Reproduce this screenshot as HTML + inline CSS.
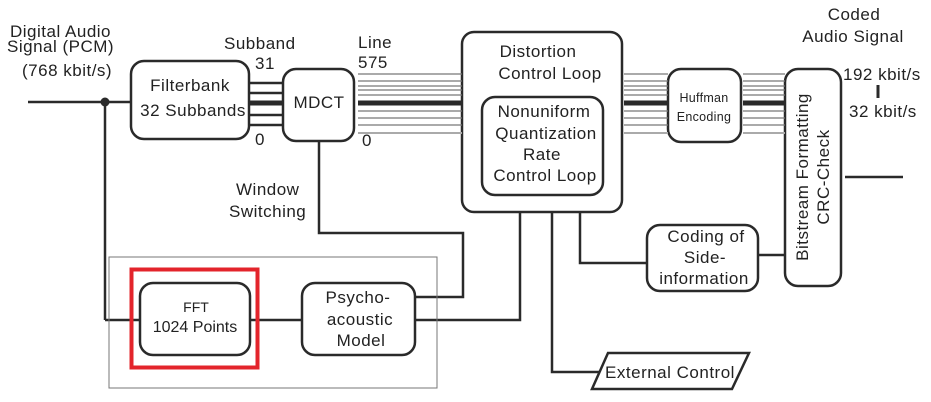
<!DOCTYPE html>
<html><head><meta charset="utf-8"><style>
html,body{margin:0;padding:0;background:#fff;}
svg{display:block;}
text{font-family:"Liberation Sans",sans-serif;fill:#222;}
</style></head><body>
<svg width="931" height="402" viewBox="0 0 931 402" xmlns="http://www.w3.org/2000/svg">
<g fill="none" stroke="#2a2a2a" stroke-width="2.5">
<line x1="28" y1="102" x2="130" y2="102"/>
<line x1="105" y1="102" x2="105" y2="320"/>
<line x1="105" y1="320" x2="140" y2="320"/>
<line x1="250" y1="83" x2="283" y2="83"/>
<line x1="250" y1="93" x2="283" y2="93"/>
<line x1="250" y1="103" x2="283" y2="103" stroke-width="5"/>
<line x1="250" y1="115" x2="283" y2="115"/>
<line x1="250" y1="125" x2="283" y2="125"/>
<rect x="131" y="61" width="118" height="78" rx="13"/>
<rect x="283" y="69" width="71" height="72" rx="13"/>
<rect x="462" y="32" width="160" height="180" rx="12"/>
<rect x="482" y="97" width="121" height="98" rx="13"/>
<rect x="668" y="69" width="73" height="73" rx="13"/>
<rect x="785" y="69" width="56" height="217" rx="13"/>
<rect x="647" y="225" width="111" height="66" rx="13"/>
<rect x="140" y="283" width="110" height="72" rx="13"/>
<rect x="302" y="283" width="113" height="72" rx="13"/>
<polygon points="608,353 749,353 732,389 592,389"/>
<polyline points="319,141 319,233 463,233 463,297 416,297"/>
<line x1="250" y1="320" x2="302" y2="320"/>
<polyline points="416,320 520,320 520,212"/>
<polyline points="552,212 552,372 600,372"/>
<polyline points="580,212 580,263 647,263"/>
<line x1="758" y1="255" x2="785" y2="255"/>
<line x1="845" y1="177" x2="903" y2="177"/>
<line x1="878" y1="85" x2="878" y2="98" stroke-width="3"/>
<line x1="358" y1="103" x2="462" y2="103" stroke-width="5"/>
<line x1="624" y1="103" x2="668" y2="103" stroke-width="5"/>
<line x1="743" y1="103" x2="785" y2="103" stroke-width="5"/>
</g>
<g stroke="#777" stroke-width="1.3">
<line x1="358" y1="74" x2="462" y2="74"/><line x1="358" y1="81" x2="462" y2="81"/><line x1="358" y1="86" x2="462" y2="86"/><line x1="358" y1="90" x2="462" y2="90"/><line x1="358" y1="95" x2="462" y2="95"/>
<line x1="358" y1="111" x2="462" y2="111"/><line x1="358" y1="118" x2="462" y2="118"/><line x1="358" y1="125" x2="462" y2="125"/><line x1="358" y1="133" x2="462" y2="133" stroke="#aaa" stroke-width="2"/>
<line x1="624" y1="74" x2="668" y2="74"/><line x1="624" y1="81" x2="668" y2="81"/><line x1="624" y1="86" x2="668" y2="86"/><line x1="624" y1="90" x2="668" y2="90"/><line x1="624" y1="95" x2="668" y2="95"/>
<line x1="624" y1="111" x2="668" y2="111"/><line x1="624" y1="118" x2="668" y2="118"/><line x1="624" y1="125" x2="668" y2="125"/><line x1="624" y1="133" x2="668" y2="133" stroke="#aaa" stroke-width="2"/>
<line x1="743" y1="74" x2="785" y2="74"/><line x1="743" y1="81" x2="785" y2="81"/><line x1="743" y1="86" x2="785" y2="86"/><line x1="743" y1="90" x2="785" y2="90"/><line x1="743" y1="95" x2="785" y2="95"/>
<line x1="743" y1="111" x2="785" y2="111"/><line x1="743" y1="118" x2="785" y2="118"/><line x1="743" y1="125" x2="785" y2="125"/><line x1="743" y1="133" x2="785" y2="133" stroke="#aaa" stroke-width="2"/>
</g>
<circle cx="105" cy="102" r="4.5" fill="#2a2a2a"/>
<rect x="109" y="257" width="328" height="131" fill="none" stroke="#777" stroke-width="1"/>
<rect x="131.5" y="269.5" width="126" height="98" fill="none" stroke="#e3242b" stroke-width="4"/>
<g font-size="17" letter-spacing="0.5">
<text x="10" y="37">Digital Audio</text>
<text x="7" y="52">Signal (PCM)</text>
<text x="22" y="76">(768 kbit/s)</text>
<text x="224" y="49">Subband</text>
<text x="255" y="69">31</text>
<text x="255" y="145">0</text>
<text x="358" y="48">Line</text>
<text x="358" y="68">575</text>
<text x="362" y="146">0</text>
<text x="190" y="91" text-anchor="middle">Filterbank</text>
<text x="193" y="116" text-anchor="middle">32 Subbands</text>
<text x="319" y="108" text-anchor="middle">MDCT</text>
<text x="236" y="195">Window</text>
<text x="229" y="217">Switching</text>
<text x="538" y="57" text-anchor="middle">Distortion</text>
<text x="550" y="79" text-anchor="middle">Control Loop</text>
<text x="544" y="117" text-anchor="middle">Nonuniform</text>
<text x="546" y="139" text-anchor="middle">Quantization</text>
<text x="542" y="160" text-anchor="middle">Rate</text>
<text x="545" y="181" text-anchor="middle">Control Loop</text>
<text x="854" y="20" text-anchor="middle">Coded</text>
<text x="853" y="42" text-anchor="middle">Audio Signal</text>
<text x="843" y="80">192 kbit/s</text>
<text x="849" y="117">32 kbit/s</text>
<text x="706" y="242" text-anchor="middle">Coding of</text>
<text x="705" y="263" text-anchor="middle">Side-</text>
<text x="704" y="284" text-anchor="middle">information</text>
<text x="358" y="303" text-anchor="middle">Psycho-</text>
<text x="360" y="325" text-anchor="middle">acoustic</text>
<text x="361" y="346" text-anchor="middle">Model</text>
<text x="670" y="378" text-anchor="middle">External Control</text>
<text x="195" y="332" text-anchor="middle" font-size="16" letter-spacing="0">1024 Points</text>
<text x="196" y="312" text-anchor="middle" font-size="14" letter-spacing="0">FFT</text>
<text x="704" y="102" text-anchor="middle" font-size="12.5" letter-spacing="0.3">Huffman</text>
<text x="704" y="121" text-anchor="middle" font-size="12.5" letter-spacing="0.3">Encoding</text>
<text transform="translate(808,177) rotate(-90)" text-anchor="middle">Bitstream Formatting</text>
<text transform="translate(829,177) rotate(-90)" text-anchor="middle">CRC-Check</text>
</g>
</svg>
</body></html>
